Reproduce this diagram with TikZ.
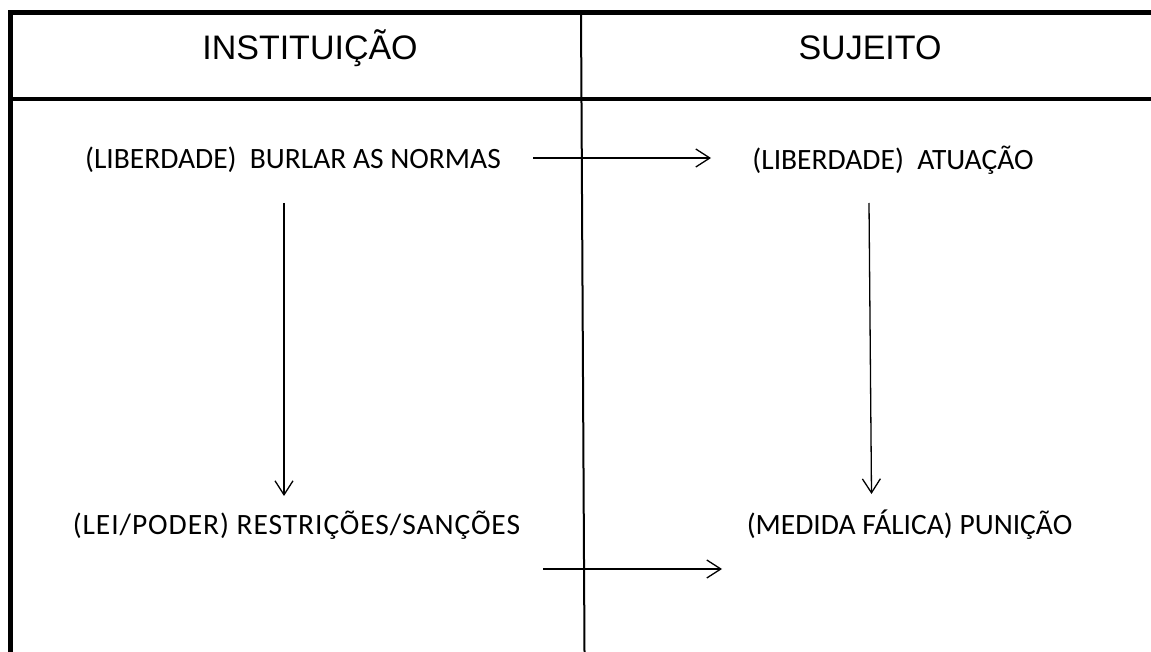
\documentclass[tikz,border=0pt]{standalone}
\usepackage{fontspec}
\setmainfont{Carlito}
\newfontfamily\arialf{Liberation Sans}
\usetikzlibrary{arrows.meta}
\tikzset{
  frame/.style={line width=4.5pt, line cap=rect},
  divider/.style={line width=2pt},
  arr/.style={line width=1.3pt, -{Straight Barb[length=14pt,width=18pt,line width=1.3pt]}},
  head/.style={font=\arialf\fontsize{34}{40}\selectfont, inner sep=0pt},
  body/.style={font=\fontsize{29.5}{35}\selectfont, inner sep=0pt},
}
\begin{document}
\begin{tikzpicture}[x=1pt,y=-1pt]
\useasboundingbox (0,0) rectangle (1151,652);
% frame
\coordinate (tl) at (10.5,12.5);
\coordinate (tr) at (1151,12.5);
\coordinate (bl) at (10.5,652);
\coordinate (sl) at (10.5,99);
\coordinate (sr) at (1151,99);
\draw[frame] (tr) -- (tl) -- (bl);
\draw[frame] (sl) -- (sr);
\coordinate (dt) at (581,13);
\coordinate (db) at (584.5,652);
\draw[divider] (dt) -- (db);
% headers
\node[head] (h1) at (310,48) {INSTITUIÇÃO};
\node[head] (h2) at (870,48) {SUJEITO};
% body texts
\node[body] (n1) at (293,160) {(LIBERDADE)\ \ BURLAR AS NORMAS};
\node[body] (n2) at (893,160) {(LIBERDADE)\ \ ATUAÇÃO};
\node[body] (n3) at (296.5,525) {\addfontfeature{LetterSpace=3.2}(LEI/PODER) RESTRIÇÕES/SANÇÕES};
\node[body] (n4) at (909.5,525) {(MEDIDA FÁLICA) PUNIÇÃO};
% arrow end points
\coordinate (a1s) at (533,158);
\coordinate (a1e) at (711,158);
\coordinate (a2s) at (284,203);
\coordinate (a2e) at (284,496);
\coordinate (a3s) at (869,203);
\coordinate (a3e) at (871.5,494);
\coordinate (a4s) at (543,569);
\coordinate (a4e) at (722,569);
\draw[arr] (a1s) -- (a1e);
\draw[arr] (a2s) -- (a2e);
\draw[arr] (a3s) -- (a3e);
\draw[arr] (a4s) -- (a4e);
\end{tikzpicture}
\end{document}
